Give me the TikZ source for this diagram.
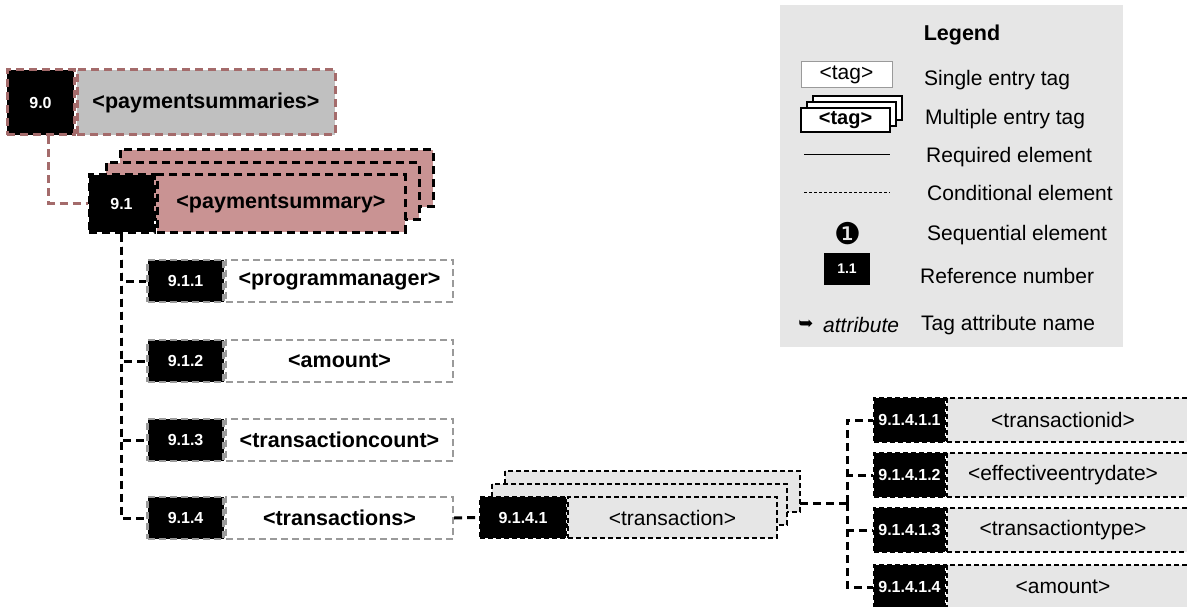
\documentclass[tikz,border=0pt]{standalone}
\usepackage{fontspec}
\setmainfont{Liberation Sans}
\newfontfamily\symfont{DejaVu Sans}
\usetikzlibrary{positioning}
\definecolor{rosefill}{HTML}{C99393}
\definecolor{roseline}{HTML}{A46B6B}
\definecolor{tagdark}{HTML}{C0C0C0}
\definecolor{taglight}{HTML}{E6E6E6}
\definecolor{rowline}{HTML}{9A9A9A}
\newcommand{\tagfont}{\fontsize{21}{24}\selectfont}
\tikzset{
  refno/.style={fill=black, text=white, inner sep=0pt, font=\bfseries\fontsize{16}{18}\selectfont},
  tagbox/.style={inner sep=0pt, font=\bfseries\fontsize{21.5}{24}\selectfont},
  plaintag/.style={inner sep=0pt, font=\tagfont},
  bigdash/.style={line width=3pt, dash pattern=on 8pt off 5pt},
  rowdash/.style={line width=2.4pt, dash pattern=on 7pt off 4pt},
  smalldash/.style={line width=2pt, dash pattern=on 5pt off 3pt},
  link/.style={bigdash, draw=black},
  legtext/.style={anchor=west, inner sep=0pt, font=\tagfont},
  subtag/.style={plaintag, fill=taglight, draw=black, smalldash, minimum height=44pt,
    execute at begin node={\hbox to 232pt\bgroup\hss}, execute at end node={\hss\egroup\hspace*{22pt}}},
}
\begin{document}
\begin{tikzpicture}[x=1pt,y=-1pt]
	\useasboundingbox (0,0) rectangle (1187,607);
	\clip (0,0) rectangle (1187,607);
	% legend
	\fill[taglight] (780,5) rectangle (1123,347);
	\node[font=\bfseries\fontsize{21.5}{24}\selectfont] (lgd) at (962,35) {Legend};
	\node[plaintag, draw=rowline, line width=1pt, fill=white, minimum width=91pt, minimum height=26pt] (lsingle) at (846.5,75) {<tag>};
	\foreach \d in {12,6} \draw[line width=2pt, fill=white] (801+\d,108-\d) rectangle (890+\d,132-\d);
	\node[tagbox, draw, line width=2pt, fill=white, minimum width=89pt, minimum height=24pt, font=\bfseries\fontsize{20}{22}\selectfont] (lmulti) at (845.5,120) {<tag>};
	\draw[line width=1pt] (804,155) -- (890,155);
	\draw[line width=1pt, dash pattern=on 3pt off 2pt] (804,193) -- (890,193);
	\node[inner sep=0pt, font=\symfont\fontsize{30}{32}\selectfont] (lseq) at (848,234) {❶};
	\node[refno, minimum width=46pt, minimum height=32pt, font=\bfseries\fontsize{14}{16}\selectfont] (lref) at (847,269) {1.1};
	\node[inner sep=0pt, font=\symfont\fontsize{18}{20}\selectfont] (larr) at (806,325) {➥};
	\node[legtext, font=\itshape\tagfont] (lattr) at (823,325) {attribute};
	\node[legtext] at (924,80) {Single entry tag};
	\node[legtext] at (925,119) {Multiple entry tag};
	\node[legtext] at (926,157) {Required element};
	\node[legtext] at (927,193) {Conditional element};
	\node[legtext] at (927,235) {Sequential element};
	\node[legtext] at (920,276) {Reference number};
	\node[legtext] at (921,325) {Tag attribute name};
	% 9.0
	\node[tagbox, fill=tagdark, draw=roseline, bigdash, minimum width=258pt, minimum height=65pt] (t90) at (206,102.5) {<paymentsummaries>};
	\node[refno, draw=roseline, bigdash, minimum width=67pt, minimum height=65pt, left=0pt of t90] (r90) {9.0};
	% 9.1
	\foreach \dx/\dy in {28/-25,14/-12} \draw[fill=rosefill, bigdash] (92+\dx,175+\dy) rectangle (405+\dx,232+\dy);
	\node[tagbox, fill=rosefill, draw=black, bigdash, minimum width=248pt, minimum height=57pt] (t91) at (281,203.5) {<paymentsummary>};
	\node[refno, draw=black, bigdash, minimum width=65pt, minimum height=57pt, left=0pt of t91] (r91) {9.1};
	\draw[bigdash, draw=roseline] ([xshift=8pt]r90.south) |- (r91.west);
	% 9.1.x
	\foreach \n/\y/\t in {1/281/programmanager, 2/361/amount, 3/440/transactioncount, 4/518/transactions} {
		\node[tagbox, fill=white, draw=rowline, rowdash, minimum width=227pt, minimum height=42pt] (t91\n) at (339.5,\y) {<\t>};
		\node[refno, draw=rowline, rowdash, minimum width=76pt, minimum height=42pt, left=0pt of t91\n] (r91\n) {9.1.\n};
		\draw[link] (r91.south) |- (r91\n.west);
	}
	% 9.1.4.1
	\foreach \dx/\dy in {23/-26,10/-13} \draw[fill=taglight, smalldash] (482+\dx,497+\dy) rectangle (777+\dx,538+\dy);
	\coordinate (stackend) at (800,503);
	\node[plaintag, fill=taglight, draw=black, smalldash, minimum width=209pt, minimum height=41pt] (t9141) at (672.5,517.5) {<transaction>};
	\node[refno, draw=black, smalldash, minimum width=86pt, minimum height=41pt, left=0pt of t9141] (r9141) {9.1.4.1};
	\draw[link] (t914.east) -- (r9141.west);
	\coordinate (j) at (847,503);
	\draw[link] (stackend) -- (j);
	% 9.1.4.1.x
	\foreach \n/\y/\t in {1/420/transactionid, 2/475/effectiveentrydate, 3/530/transactiontype, 4/587/amount} {
		\node[subtag, anchor=west] (t9141\n) at (946,\y) {<\t>};
		\node[refno, draw=black, smalldash, minimum width=71pt, minimum height=44pt, left=0pt of t9141\n] (r9141\n) {9.1.4.1.\n};
		\draw[link] (j) |- (r9141\n.west);
	}
\end{tikzpicture}
\end{document}
